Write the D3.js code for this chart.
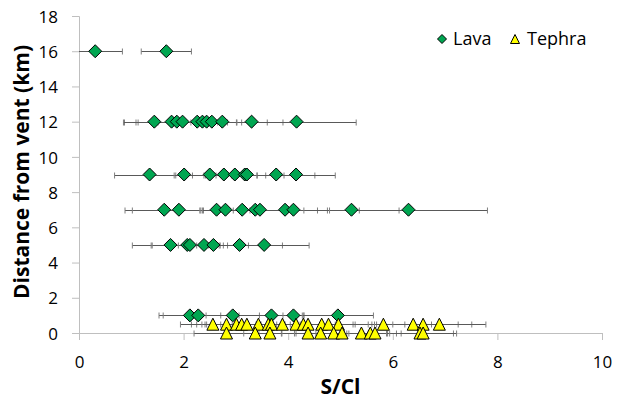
<!DOCTYPE html>
<html>
<head>
<meta charset="utf-8">
<title>S/Cl vs distance from vent</title>
<script src="https://d3js.org/d3.v7.min.js"></script>
<style>
  body { margin: 0; background: #fff; }
  text { font-family: "Open Sans", sans-serif; }
</style>
</head>
<body>
<svg id="chart" width="617" height="399"></svg>
<script>
// Lava: S/Cl, distance from vent (km), +/- error on S/Cl
const lavaSCl  = [0.31, 1.67,
                  1.44, 1.77, 1.87, 1.98, 2.26, 2.36, 2.44, 2.54, 2.74, 3.30, 4.16,
                  1.35, 2.01, 2.50, 2.77, 2.98, 3.17, 3.21, 3.77, 4.15,
                  1.63, 1.91, 2.63, 2.80, 3.12, 3.37, 3.46, 3.94, 4.10, 5.21, 6.30,
                  1.75, 2.07, 2.12, 2.39, 2.57, 3.07, 3.54,
                  2.12, 2.28, 2.94, 3.68, 4.10, 4.95];
const lavaDist = [16, 16,
                  12, 12, 12, 12, 12, 12, 12, 12, 12, 12, 12,
                  9, 9, 9, 9, 9, 9, 9, 9, 9,
                  7, 7, 7, 7, 7, 7, 7, 7, 7, 7, 7,
                  5, 5, 5, 5, 5, 5, 5,
                  1, 1, 1, 1, 1, 1];
const lavaErr  = [0.52, 0.48,
                  0.57, 0.64, 0.78, 1.13, 0.75, 0.40, 0.30, 0.30, 0.86, 0.60, 1.14,
                  0.67, 0.16, 0.68, 0.15, 0.59, 0.75, 0.20, 0.74, 0.75,
                  0.75, 0.89, 0.32, 0.47, 0.30, 0.60, 1.10, 0.81, 1.26, 0.91, 1.51,
                  0.73, 0.69, 0.72, 0.31, 0.67, 0.82, 0.86,
                  0.59, 0.67, 0.51, 0.62, 0.20, 0.68];

// Tephra
const tephraSCl  = [2.56, 2.82, 3.01, 3.11, 3.21, 3.43, 3.62, 3.68, 3.89, 4.15,
                    4.29, 4.38, 4.64, 4.77, 4.96, 5.82, 6.39, 6.58, 6.89,
                    2.82, 3.37, 3.65, 4.38, 4.62, 4.87, 5.03, 5.40, 5.57, 5.66, 6.52, 6.58];
const tephraDist = [0.5, 0.5, 0.5, 0.5, 0.5, 0.5, 0.5, 0.5, 0.5, 0.5,
                    0.5, 0.5, 0.5, 0.5, 0.5, 0.5, 0.5, 0.5, 0.5,
                    0, 0, 0, 0, 0, 0, 0, 0, 0, 0, 0, 0];
const tephraErr  = [0.41, 0.57, 0.60, 0.67, 0.50, 0.50, 0.50, 0.50, 0.50, 2.21,
                    1.94, 0.90, 0.60, 0.83, 0.73, 0.92, 0.86, 0.93, 0.89,
                    0.62, 0.50, 0.50, 0.50, 0.50, 0.50, 0.50, 0.50, 0.50, 0.50, 0.64, 0.64];

const xTicks = [0, 2, 4, 6, 8, 10];
const yTicks = [0, 2, 4, 6, 8, 10, 12, 14, 16, 18];
const seriesNames = ["Lava", "Tephra"];

const svg = d3.select("#chart");
const plotL = 79, plotR = 602, plotT = 16, plotB = 333;

const x = d3.scaleLinear().domain([0, 10]).range([plotL, plotR]);
const y = d3.scaleLinear().domain([0, 18]).range([plotB, plotT]);

const axisColor = "#bfbfbf";

// axes
const xAxis = svg.append("g").attr("transform", `translate(0,${plotB})`)
  .call(d3.axisBottom(x).tickValues(xTicks).tickSize(7).tickPadding(16).tickFormat(d3.format("d")));
const yAxis = svg.append("g").attr("transform", `translate(${plotL},0)`)
  .call(d3.axisLeft(y).tickValues(yTicks).tickSize(7).tickPadding(14).tickFormat(d3.format("d")));
[xAxis, yAxis].forEach(g => {
  g.select(".domain").attr("stroke", axisColor);
  g.selectAll(".tick line").attr("stroke", axisColor);
  g.selectAll(".tick text").attr("fill", "#000").style("font-size", "17px")
    .style("font-family", "'Open Sans', sans-serif");
});
yAxis.selectAll(".tick text").attr("dy", "0.36em");

// axis titles
svg.append("text").attr("x", (plotL + plotR) / 2).attr("y", 394)
  .attr("text-anchor", "middle").style("font-size", "21px").style("font-weight", "bold")
  .text("S/Cl");
svg.append("text").attr("transform", "translate(29,172) rotate(-90)")
  .attr("text-anchor", "middle").style("font-size", "21px").style("font-weight", "bold")
  .text("Distance from vent (km)");

svg.append("clipPath").attr("id", "plot")
  .append("rect").attr("x", plotL).attr("y", 0).attr("width", plotR - plotL).attr("height", plotB + 10);

const diamond = r => `M0,${-r}L${r},0L0,${r}L${-r},0Z`;
const triangle = (w, h) => `M0,${-h / 2 - 0.5}L${w / 2},${h / 2 + 0.5}L${-w / 2},${h / 2 + 0.5}Z`;

function drawSeries(xs, ys, errs, shape, fill) {
  const pts = xs.map((v, i) => ({ v: v, d: ys[i], e: errs[i] }));
  const eb = svg.append("g").attr("clip-path", "url(#plot)")
    .attr("stroke", "#595959").attr("stroke-width", 1);
  pts.forEach(p => {
    const cy = Math.round(y(p.d)) + 0.5;
    eb.append("line").attr("x1", x(p.v - p.e)).attr("x2", x(p.v + p.e))
      .attr("y1", cy).attr("y2", cy);
    [p.v - p.e, p.v + p.e].forEach(c => {
      eb.append("line").attr("x1", x(c)).attr("x2", x(c))
        .attr("y1", cy - 3).attr("y2", cy + 3).attr("stroke", "#7f7f7f");
    });
  });
  svg.append("g").selectAll("path").data(pts).join("path")
    .attr("transform", p => `translate(${x(p.v)},${y(p.d)})`)
    .attr("d", shape).attr("fill", fill).attr("stroke", "#000").attr("stroke-width", 1);
}

drawSeries(lavaSCl, lavaDist, lavaErr, diamond(6.5), "#00a651");
drawSeries(tephraSCl, tephraDist, tephraErr, triangle(12, 11), "#ffff00");

// legend
const legend = svg.append("g");
legend.append("path").attr("transform", "translate(442,39)").attr("d", diamond(4.5))
  .attr("fill", "#00a651").attr("stroke", "#000");
legend.append("text").attr("x", 453).attr("y", 45).style("font-size", "18px").text(seriesNames[0]);
legend.append("path").attr("transform", "translate(515,39)").attr("d", triangle(9, 8))
  .attr("fill", "#ffff00").attr("stroke", "#000");
legend.append("text").attr("x", 527).attr("y", 45).style("font-size", "18px").text(seriesNames[1]);
</script>
</body>
</html>
